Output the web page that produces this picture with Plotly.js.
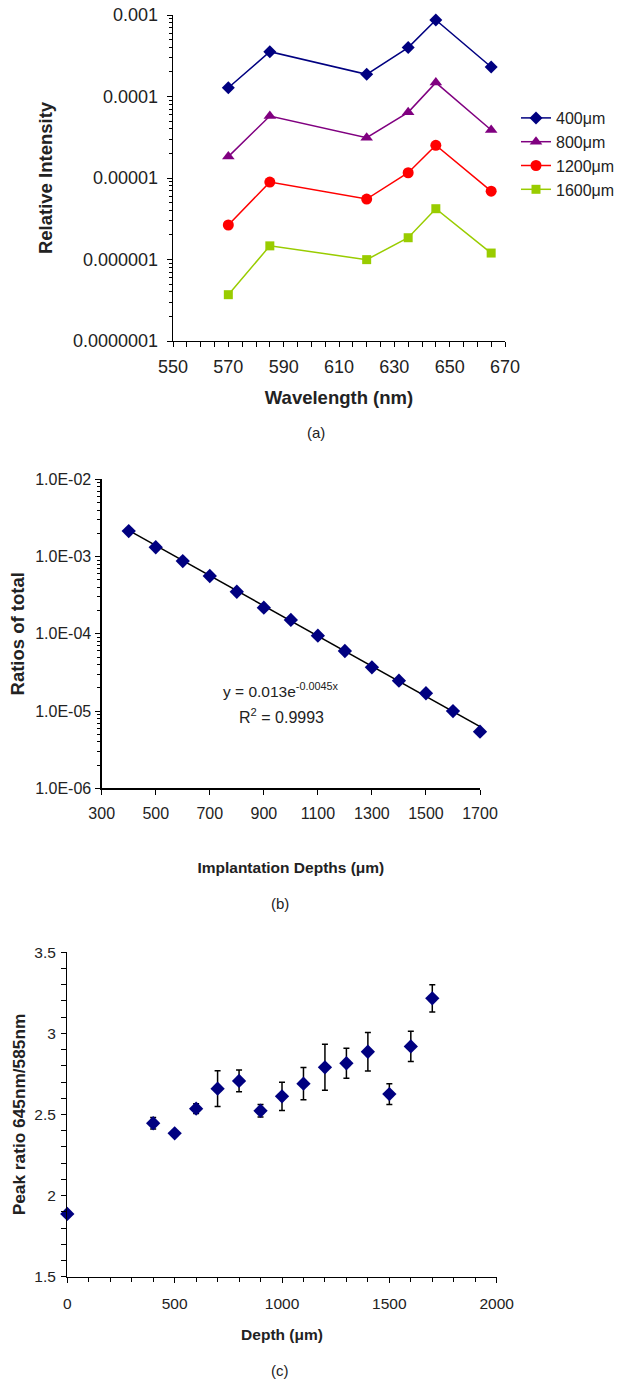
<!DOCTYPE html>
<html>
<head>
<meta charset="utf-8">
<script src="https://cdn.plot.ly/plotly-3.0.1.min.js"></script>
<style>html,body{margin:0;padding:0;background:#fff;}#chart{width:633px;height:1381px;}</style>
</head>
<body>
<div id="chart"></div>
<script>
// ---- Panel (a) data ----
var wavelengths = [570, 585, 620, 635, 645, 665];
var int400  = [1.28e-4, 3.55e-4, 1.87e-4, 3.98e-4, 8.7e-4, 2.3e-4];
var int800  = [1.83e-5, 5.77e-5, 3.12e-5, 6.4e-5, 1.48e-4, 3.88e-5];
var int1200 = [2.65e-6, 8.9e-6, 5.52e-6, 1.16e-5, 2.52e-5, 6.9e-6];
var int1600 = [3.7e-7, 1.47e-6, 9.96e-7, 1.85e-6, 4.2e-6, 1.2e-6];
var seriesNames = ["400μm", "800μm", "1200μm", "1600μm"];
var aTickVals = [1e-7, 1e-6, 1e-5, 1e-4, 1e-3];
var aTickText = ["0.0000001", "0.000001", "0.00001", "0.0001", "0.001"];

// ---- Panel (b) data ----
var depthsB = [400, 500, 600, 700, 800, 900, 1000, 1100, 1200, 1300, 1400, 1500, 1600, 1700];
var ratiosB = [2.14e-3, 1.32e-3, 8.75e-4, 5.6e-4, 3.5e-4, 2.18e-4, 1.51e-4, 9.45e-5, 5.99e-5, 3.68e-5, 2.47e-5, 1.70e-5, 1.0e-5, 5.4e-6];
var fitX = [400, 1700];
var fitY = [2.18e-3, 6.3e-6];
var bTickVals = [1e-6, 1e-5, 1e-4, 1e-3, 1e-2];
var bTickText = ["1.0E-06", "1.0E-05", "1.0E-04", "1.0E-03", "1.0E-02"];

// ---- Panel (c) data ----
var depthsC = [0, 400, 500, 600, 700, 800, 900, 1000, 1100, 1200, 1300, 1400, 1500, 1600, 1700];
var peakC   = [1.887, 2.446, 2.384, 2.536, 2.659, 2.707, 2.523, 2.612, 2.690, 2.791, 2.816, 2.887, 2.626, 2.920, 3.216];
var errC    = [null, 0.035, 0.015, 0.03, 0.11, 0.067, 0.038, 0.087, 0.099, 0.142, 0.093, 0.119, 0.064, 0.094, 0.084];

var FONT = "Arial, 'Liberation Sans', sans-serif";
var TXT = "#222";
var W = 633, H = 1381;
function px(x){ return x / W; }
function py(y){ return 1 - y / H; }

var colors = ["#000080", "#800080", "#FF0000", "#99CC00"];
var symbols = ["diamond", "triangle-up", "circle", "square"];
var sizes = [10, 11, 11, 9];
var aData = [int400, int800, int1200, int1600];

var traces = [];
for (var i = 0; i < 4; i++) {
  traces.push({
    x: wavelengths, y: aData[i], name: seriesNames[i],
    type: "scatter", mode: "lines+markers",
    line: {color: colors[i], width: 1.5},
    marker: {color: colors[i], symbol: symbols[i], size: sizes[i]},
    xaxis: "x", yaxis: "y", cliponaxis: false
  });
}
traces.push({
  x: fitX, y: fitY, type: "scatter", mode: "lines",
  line: {color: "#000", width: 1.5}, showlegend: false,
  xaxis: "x2", yaxis: "y2", hoverinfo: "skip"
});
traces.push({
  x: depthsB, y: ratiosB, type: "scatter", mode: "markers",
  marker: {color: "#000080", symbol: "diamond", size: 11},
  showlegend: false, xaxis: "x2", yaxis: "y2", cliponaxis: false
});
traces.push({
  x: depthsC, y: peakC, type: "scatter", mode: "markers",
  marker: {color: "#000080", symbol: "diamond", size: 11},
  error_y: {type: "data", array: errC, visible: true, color: "#000", thickness: 1.5, width: 3},
  showlegend: false, xaxis: "x3", yaxis: "y3", cliponaxis: false
});

function baseAxis(extra){
  var a = {
    showgrid: false, zeroline: false, showline: true, linecolor: "#000", linewidth: 1.3,
    ticks: "outside", ticklen: 5, tickcolor: "#000", tickwidth: 1,
    tickfont: {family: FONT, color: TXT, size: 16},
    fixedrange: true
  };
  for (var k in extra) a[k] = extra[k];
  return a;
}

function cap(text, x, y, size){
  return {text: text, x: px(x), y: py(y), xref: "paper", yref: "paper", xanchor: "center", yanchor: "middle",
          showarrow: false, font: {family: FONT, size: size, color: TXT}};
}

var layout = {
  width: W, height: H,
  margin: {l: 0, r: 0, t: 0, b: 0},
  paper_bgcolor: "#fff", plot_bgcolor: "#fff",
  font: {family: FONT, color: TXT},
  showlegend: true,
  legend: {
    x: px(516), y: py(101), xanchor: "left", yanchor: "top",
    font: {family: FONT, size: 16, color: TXT},
    bgcolor: "rgba(0,0,0,0)", borderwidth: 0, tracegroupgap: 0
  },
  xaxis: baseAxis({
    domain: [px(173), px(505)], anchor: "y", range: [550, 670],
    tickmode: "linear", tick0: 550, dtick: 20, ticklabelstandoff: 4,
    minor: {ticks: "outside", ticklen: 5, dtick: 5, tickcolor: "#000"},
    tickfont: {family: FONT, color: TXT, size: 18},
    title: {text: "<b>Wavelength (nm)</b>", font: {family: FONT, size: 18.5, color: TXT}, standoff: 15}
  }),
  yaxis: baseAxis({
    domain: [py(341), py(15)], anchor: "x", type: "log", range: [-7, -3],
    tickmode: "array", tickvals: aTickVals, ticktext: aTickText, ticklabelstandoff: 5,
    minor: {ticks: "outside", ticklen: 3, dtick: "D1", tickcolor: "#000"},
    tickfont: {family: FONT, color: TXT, size: 18},
    title: {text: "<b>Relative Intensity</b>", font: {family: FONT, size: 18.5, color: TXT}, standoff: 15}
  }),
  xaxis2: baseAxis({
    domain: [px(101.7), px(480)], anchor: "y2", range: [300, 1700],
    tickmode: "linear", tick0: 300, dtick: 200, ticklabelstandoff: 5,
    title: {text: "<b>Implantation Depths (μm)</b>", font: {family: FONT, size: 15.5, color: TXT}, standoff: 41}
  }),
  yaxis2: baseAxis({
    domain: [py(788.3), py(479.3)], anchor: "x2", type: "log", range: [-6, -2],
    tickmode: "array", tickvals: bTickVals, ticktext: bTickText, ticklabelstandoff: 1,
    minor: {ticks: "outside", ticklen: 3, dtick: "D1", tickcolor: "#000"},
    title: {text: "<b>Ratios of total</b>", font: {family: FONT, size: 18.5, color: TXT}, standoff: 5}
  }),
  xaxis3: baseAxis({
    domain: [px(67.3), px(496.7)], anchor: "y3", range: [0, 2000],
    tickmode: "linear", tick0: 0, dtick: 500, ticklabelstandoff: 7,
    minor: {ticks: "outside", ticklen: 4, dtick: 100, tickcolor: "#000"},
    tickfont: {family: FONT, color: TXT, size: 15.5},
    title: {text: "<b>Depth (μm)</b>", font: {family: FONT, size: 15.5, color: TXT}, standoff: 18}
  }),
  yaxis3: baseAxis({
    domain: [py(1276.7), py(952.3)], anchor: "x3", range: [1.5, 3.5],
    tickmode: "linear", tick0: 1.5, dtick: 0.5, ticklabelstandoff: 2,
    minor: {ticks: "outside", ticklen: 5, dtick: 0.1, tickcolor: "#000"},
    tickfont: {family: FONT, color: TXT, size: 15.5},
    title: {text: "<b>Peak ratio 645nm/585nm</b>", font: {family: FONT, size: 17.3, color: TXT}, standoff: 4}
  }),
  annotations: [
    cap("(a)", 316, 433, 15),
    cap("(b)", 280, 903, 15),
    cap("(c)", 280, 1370, 15),
    cap("y = 0.013e<sup>-0.0045x</sup>", 281, 690, 15.5),
    cap("R<sup>2</sup> = 0.9993", 281, 716, 16)
  ]
};

Plotly.newPlot("chart", traces, layout, {displayModeBar: false, staticPlot: true});
</script>
</body>
</html>
